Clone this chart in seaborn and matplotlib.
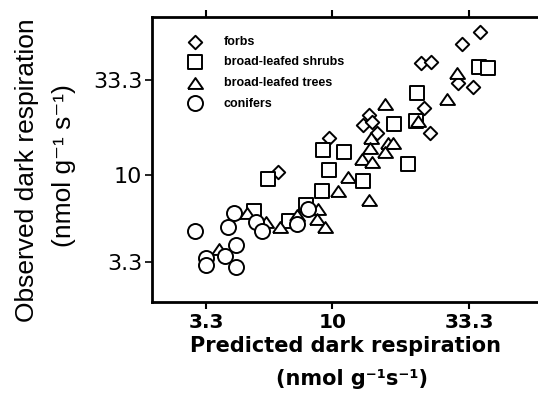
import numpy as np
import pandas as pd
import matplotlib
matplotlib.use("Agg")
import matplotlib.pyplot as plt
import seaborn as sns
from matplotlib.ticker import NullLocator

# ---- data (predicted vs observed dark respiration, nmol g-1 s-1) ----
groups = ["forbs", "broad-leafed shrubs", "broad-leafed trees", "conifers"]

forbs_pred = [36.6, 31.2, 21.8, 23.8, 30.2, 34.4, 22.4, 23.6, 13.8, 13.1, 14.2, 14.8, 9.7, 6.2]
forbs_obs = [61.6, 52.9, 41.5, 42.1, 32.2, 30.6, 23.5, 17.1, 21.5, 18.9, 19.6, 17.1, 16.0, 10.4]

shrubs_pred = [36.3, 39.3, 21.0, 17.2, 20.8, 9.2, 11.1, 9.7, 5.7, 9.1, 13.1, 19.4, 7.9, 6.8, 5.0]
shrubs_obs = [39.5, 39.0, 28.4, 19.1, 19.9, 13.8, 13.4, 10.7, 9.5, 8.2, 9.3, 11.5, 6.8, 5.6, 6.3]

trees_pred = [29.9, 27.4, 15.9, 21.2, 14.0, 16.3, 17.0, 13.9, 15.9, 13.0, 14.2, 11.5, 10.5, 13.8,
              8.8, 8.7, 9.4, 7.3, 6.3, 5.6, 4.7, 3.7]
trees_obs = [36.6, 26.3, 24.7, 19.9, 16.0, 15.0, 15.0, 14.1, 13.4, 12.3, 11.8, 9.8, 8.2, 7.3,
             6.5, 5.7, 5.2, 6.0, 5.2, 5.5, 6.2, 3.9]

conifers_pred = [3.0, 4.2, 4.0, 5.1, 5.4, 4.3, 3.9, 3.3, 3.3, 4.3, 7.3, 8.1]
conifers_obs = [4.9, 6.2, 5.2, 5.5, 4.9, 4.1, 3.6, 3.5, 3.2, 3.1, 5.4, 6.5]

tick_values = [3.3, 10, 33.3]
tick_labels = ["3.3", "10", "33.3"]

series = {
    "forbs": (forbs_pred, forbs_obs),
    "broad-leafed shrubs": (shrubs_pred, shrubs_obs),
    "broad-leafed trees": (trees_pred, trees_obs),
    "conifers": (conifers_pred, conifers_obs),
}

frames = []
for g in groups:
    p, o = series[g]
    frames.append(pd.DataFrame({"pred": p, "obs": o, "group": g}))
df = pd.concat(frames, ignore_index=True)

# ---- style ----
sns.set_theme(style="white")
plt.rcParams["font.family"] = ["DejaVu Sans"]
plt.rcParams["text.color"] = "black"
plt.rcParams["axes.labelcolor"] = "black"
plt.rcParams["xtick.color"] = "black"
plt.rcParams["ytick.color"] = "black"

W, H = 538, 417
fig = plt.figure(figsize=(W / 100, H / 100), dpi=100)
fig.patch.set_facecolor("white")
ax = fig.add_axes([152 / W, 1 - 302 / H, 1 - 152 / W, (302 - 17) / H])
ax.set_facecolor("white")

tri = np.array([[-1.0, -0.725], [1.0, -0.725], [0.0, 0.725], [-1.0, -0.725]])
marker_map = {"forbs": "D", "broad-leafed shrubs": "s", "broad-leafed trees": tri, "conifers": "o"}
size_map = {"forbs": 47, "broad-leafed shrubs": 112, "broad-leafed trees": 117, "conifers": 117}

for g in groups:
    sub = df[df["group"] == g]
    sns.scatterplot(data=sub, x="pred", y="obs", marker=marker_map[g], s=size_map[g],
                    color="white", edgecolor="black", linewidth=1.4, ax=ax, label=g,
                    legend=False, zorder=3)

ax.set_xscale("log")
ax.set_yscale("log")
ax.set_xlim(2.048, 60.9)
ax.set_ylim(1.996, 74.5)

ax.set_xticks(tick_values)
ax.set_xticklabels(tick_labels)
ax.set_yticks(tick_values)
ax.set_yticklabels(tick_labels)
ax.xaxis.set_minor_locator(NullLocator())
ax.yaxis.set_minor_locator(NullLocator())

ax.tick_params(axis="x", which="major", bottom=True, top=True, direction="out",
               length=5, width=1.5, color="black", pad=3, labelsize=14.5, labelcolor="black")
ax.tick_params(axis="y", which="major", left=True, direction="out",
               length=5, width=1.2, color="black", pad=2, labelsize=16, labelcolor="black")
for lab in ax.get_xticklabels():
    lab.set_fontweight("bold")

for side in ["left", "top", "bottom"]:
    ax.spines[side].set_visible(True)
    ax.spines[side].set_color("black")
    ax.spines[side].set_linewidth(2.0)
ax.spines["right"].set_visible(False)
ax.set_xlabel("")
ax.set_ylabel("")

leg = ax.legend(loc="upper left", bbox_to_anchor=(0.079, 0.934), frameon=False,
                borderpad=0, borderaxespad=0, handletextpad=1.3, labelspacing=0.69,
                prop={"family": "Liberation Sans", "weight": "bold", "size": 9})
for t in leg.get_texts():
    t.set_color("black")

# ---- axis titles ----
fig.text(345 / W, 1 - 352 / H, "Predicted dark respiration", ha="center", va="baseline",
         fontsize=15, fontweight="bold", family=["DejaVu Sans"], color="black")
fig.text(352 / W, 1 - 385 / H, "(nmol g\u207b\u00b9s\u207b\u00b9)", ha="center", va="baseline",
         fontsize=15, fontweight="bold", family=["DejaVu Sans"], color="black")

fig.text(27 / W, 1 - 170 / H, "Observed dark respiration", rotation=90, ha="center", va="center",
         fontsize=19, family=["Liberation Sans", "DejaVu Sans"], color="black")
fig.text(64 / W, 1 - 166 / H, "(nmol g\u207b\u00b9 s\u207b\u00b9)", rotation=90, ha="center", va="center",
         fontsize=19, family=["Liberation Sans", "DejaVu Sans"], color="black")

fig.savefig("out.png", dpi=100, facecolor="white")
